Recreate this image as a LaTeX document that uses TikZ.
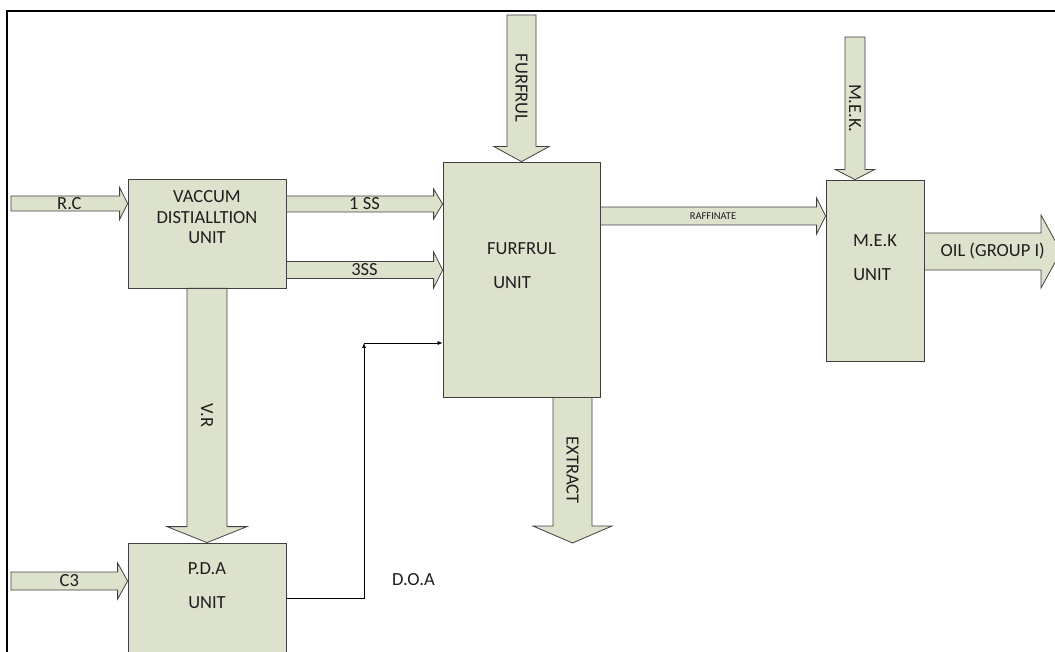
\documentclass[tikz,border=0pt]{standalone}
\usepackage{fontspec}
\setmainfont{Carlito}
\usepackage{tikz}
\usetikzlibrary{arrows.meta, positioning, calc}
\definecolor{unitfill}{RGB}{221,226,205}
\definecolor{unitdraw}{RGB}{64,64,64}
\definecolor{labelgray}{RGB}{30,30,30}
% block arrow to the right: from, to, shaft half, head half, head length, label
\newcommand{\hstream}[6]{%
  \draw[stream] let \p1=(#1), \p2=(#2) in
    (\x1,\y1+#3) -- (\x2-#5,\y1+#3) -- (\x2-#5,\y1+#4) -- (\x2,\y1)
    -- (\x2-#5,\y1-#4) -- (\x2-#5,\y1-#3) -- (\x1,\y1-#3) -- cycle
    (\x1/2+\x2/2,\y1) node[streamtext]{#6};}
% block arrow downwards
\newcommand{\vstream}[6]{%
  \draw[stream] let \p1=(#1), \p2=(#2) in
    (\x1+#3,\y1) -- (\x1+#3,\y2+#5) -- (\x1+#4,\y2+#5) -- (\x1,\y2)
    -- (\x1-#4,\y2+#5) -- (\x1-#3,\y2+#5) -- (\x1-#3,\y1) -- cycle
    (\x1,\y1/2+\y2/2) node[streamtext, rotate=-90]{#6};}

\begin{document}
\begin{tikzpicture}[
    x=1pt, y=-1pt,
    unit/.style={
        rectangle,
        draw=unitdraw,
        fill=unitfill,
        line width=0.8pt,
        inner sep=0pt
    },
    stream/.style={draw=unitdraw, fill=unitfill, line width=0.8pt},
    streamtext/.style={inner sep=0pt, text=labelgray, font=\fontsize{18.5}{20}\selectfont},
    unittext/.style={inner sep=0pt, text=labelgray, align=center, font=\fontsize{18.5}{20.5}\selectfont},
    doaline/.style={-{Latex[length=5pt,width=4pt]}, line width=0.7pt, black},
    frame/.style={line width=2pt, black}
]
\useasboundingbox (0,0) rectangle (1055,652);
\clip (0,0) rectangle (1055,652);

\draw[frame] (7,670) -- (7,11) -- (1070,11);

% units
\node[unit, minimum width=158pt, minimum height=109pt] (vdu) at (207,233.5) {};
\node[unit, minimum width=157pt, minimum height=235pt] (fur) at (521.5,279.5) {};
\node[unit, minimum width=158pt, minimum height=120pt] (pda) at (207,603) {};
\node[unit, minimum width=98pt, minimum height=181pt] (mek) at (875,270.5) {};

\node[unittext] (vdutext) at ([yshift=-38.5pt]vdu.north) {VACCUM\\DISTIALLTION\\UNIT};
\node[unittext] (furtext) at ([yshift=-87.5pt]fur.north) {FURFRUL};
\node[unittext] (furunit) at ([xshift=-9.5pt,yshift=-121.5pt]fur.north) {UNIT};
\node[unittext] (pdatext) at ([yshift=-26pt]pda.north) {P.D.A};
\node[unittext] (pdaunit) at ([yshift=-60pt]pda.north) {UNIT};
\node[unittext] (mektext) at ([yshift=-61pt]mek.north) {M.E.K};
\node[unittext] (mekunit) at ([xshift=-3pt,yshift=-95pt]mek.north) {UNIT};

% stream ends
\coordinate (rcin) at (11,203.5);
\coordinate (ss1) at (0,204);
\coordinate (ss3) at (0,270);
\coordinate (raf) at (0,216);
\coordinate (oilout) at (1061,251.5);
\coordinate (c3in) at (11,581);
\coordinate (furin) at (521.5,15);
\coordinate (mekin) at (855,37);
\coordinate (extout) at (572.5,543);
\coordinate (doay) at (0,598);
\coordinate (doabend) at (364,343);

\hstream{rcin}{vdu.west |- rcin}{7.5pt}{16pt}{8pt}{R.C}
\hstream{vdu.east |- ss1}{fur.west |- ss1}{8pt}{15pt}{9pt}{1 SS}
\hstream{vdu.east |- ss3}{fur.west |- ss3}{8.5pt}{18pt}{9pt}{3SS}
\hstream{fur.east |- raf}{mek.west |- raf}{9pt}{18pt}{9pt}{{\fontsize{10.5}{12}\selectfont RAFFINATE}}
\hstream{mek.east |- oilout}{oilout}{18.5pt}{36.5pt}{20pt}{OIL (GROUP I)}
\hstream{c3in}{pda.west |- c3in}{9pt}{18pt}{10pt}{C3}
\vstream{furin}{fur.north}{14.5pt}{27.5pt}{15pt}{FURFRUL}
\vstream{mekin}{mek.north -| mekin}{10pt}{19.5pt}{10pt}{M.E.K.}
\vstream{vdu.south}{pda.north}{20pt}{40pt}{16pt}{V.R}
\vstream{fur.south -| extout}{extout}{19.5pt}{39.5pt}{17pt}{EXTRACT}

% D.O.A line
\draw[doaline] (pda.east |- doay) -| (doabend);
\draw[doaline] (doabend) -- (fur.west |- doabend);
\node[unittext] (doatext) at (413.5,580) {D.O.A};

\end{tikzpicture}
\end{document}
